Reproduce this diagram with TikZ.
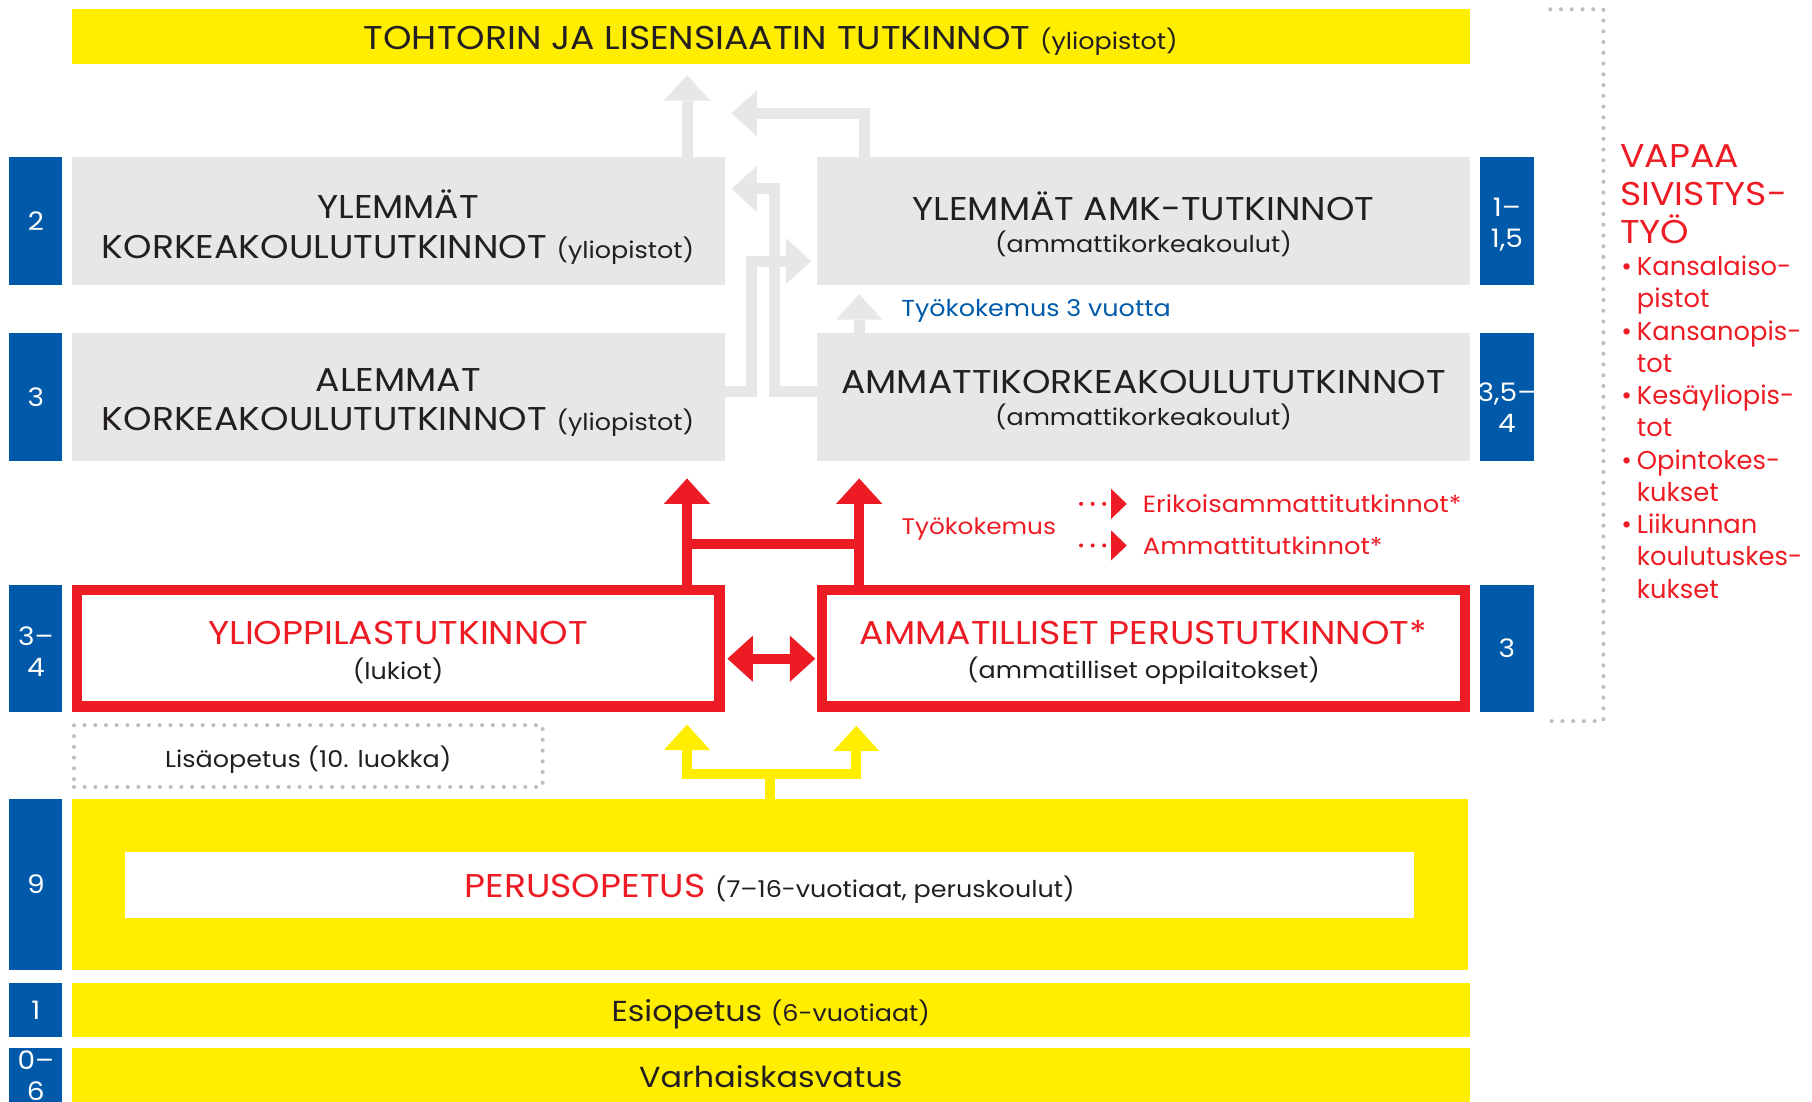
\documentclass[tikz,border=0pt]{standalone}
\usepackage{fontspec}
\setmainfont{Poppins}[FakeStretch=1.1]
\newfontfamily\kapea{Poppins}
\usetikzlibrary{arrows.meta}

\definecolor{fiyellow}{RGB}{255,238,0}
\definecolor{fiblue}{RGB}{0,90,169}
\definecolor{fired}{RGB}{237,28,36}
\definecolor{figray}{RGB}{230,231,232}
\definecolor{fidots}{RGB}{188,190,192}
\definecolor{fiink}{RGB}{35,31,32}

\newcommand{\pien}[1]{{\fontsize{20}{24}\selectfont #1}}
\newcommand{\pallo}{\makebox[13.5pt][l]{•}}
\newcommand{\sis}{\hspace*{13.5pt}}

\tikzset{
  fibox/.style={rectangle, inner sep=0pt, outer sep=0pt},
  boxtext/.style={inner sep=0pt, outer sep=0pt, align=center, text=fiink, font=\fontsize{28.5}{34}\selectfont},
  graybox/.style={fibox, fill=figray, minimum width=565pt, minimum height=111pt},
  yellowbox/.style={fibox, fill=fiyellow, minimum width=1210pt},
  redbox/.style={fibox, draw=fired, line width=9pt, minimum width=556pt, minimum height=101pt},
  years/.style={fibox, fill=fiblue, text=white, align=center, minimum width=46pt, font=\fontsize{22}{27}\selectfont},
  yearstext/.style={inner sep=0pt, outer sep=0pt, text=white, align=center, font=\fontsize{22}{27}\selectfont},
  note/.style={inner sep=0pt, outer sep=0pt, text=fiink, font=\fontsize{20}{24}\selectfont},
  dotline/.style={draw=fidots, line width=3.5pt, line cap=round, dash pattern=on 0pt off 9.3pt},
  grayarrow/.style={draw=figray, line width=9.5pt, ->},
  redarrow/.style={draw=fired, line width=8.5pt},
  yellowarrow/.style={draw=fiyellow, line width=8.5pt},
  dotarrow/.style={draw=fired, line width=3.5pt, line cap=round, dash pattern=on 0pt off 10pt, -{Triangle[length=13.5pt, width=26pt, line width=0pt]}}
}

\begin{document}
\begin{tikzpicture}[x=1pt, y=-1pt, >={Triangle[length=22pt, width=40pt, line width=0pt]}, line join=miter]
  \useasboundingbox (0, 0) rectangle (1568, 953);
  % Nodes
  \node (title) [yellowbox, minimum height=47pt] at (667, 31.5) {};
  \node (ylk) [graybox] at (344.5, 191.5) {};
  \node (alk) [graybox] at (344.5, 343.5) {};
  \node (yamk) [graybox] at (989.5, 191.5) {};
  \node (amk) [graybox] at (989.5, 343.5) {};
  \node (yo) [redbox] at (344.5, 561) {};
  \node (amm) [redbox] at (989.5, 561) {};
  \node (lisa) [fibox, dotline, minimum width=405.6pt, minimum height=53.5pt] at (266.8, 654.25) {};
  \node (perus) [yellowbox, minimum width=1208pt, minimum height=148pt] at (666, 765) {};
  \node (perus-in) [fibox, fill=white, minimum width=1116pt, minimum height=57pt] at (666, 765.5) {};
  \node (esi) [yellowbox, minimum height=46pt] at (667, 874) {};
  \node (varh) [yellowbox, minimum height=48pt] at (667, 931) {};
  % Box texts
  \node (title-text) [boxtext] at ([yshift=-3.5pt]title) {TOHTORIN JA LISENSIAATIN TUTKINNOT \pien{(yliopistot)}};
  \node (ylk-text) [boxtext] at ([yshift=-5pt]ylk) {YLEMMÄT\\KORKEAKOULUTUTKINNOT \pien{(yliopistot)}};
  \node (alk-text) [boxtext] at ([yshift=-5pt]alk) {ALEMMAT\\KORKEAKOULUTUTKINNOT \pien{(yliopistot)}};
  \node (yamk-text) [boxtext, font=\fontsize{28.5}{28}\selectfont] at ([yshift=-2.5pt]yamk) {YLEMMÄT AMK-TUTKINNOT\\\pien{(ammattikorkeakoulut)}};
  \node (amk-text) [boxtext, font=\fontsize{28.5}{28}\selectfont] at ([yshift=-2.5pt]amk) {AMMATTIKORKEAKOULUTUTKINNOT\\\pien{(ammattikorkeakoulut)}};
  \node (yo-text) [boxtext, font=\fontsize{28.5}{30}\selectfont] at ([yshift=-3.5pt]yo) {\textcolor{fired}{YLIOPPILASTUTKINNOT}\\\pien{(lukiot)}};
  \node (amm-text) [boxtext, font=\fontsize{28.5}{30}\selectfont] at ([yshift=-3.5pt]amm) {\textcolor{fired}{AMMATILLISET PERUSTUTKINNOT*}\\\pien{(ammatilliset oppilaitokset)}};
  \node (lisa-text) [note] at ([yshift=-3pt]lisa) {Lisäopetus (10. luokka)};
  \node (perus-text) [boxtext] at ([yshift=-4pt]perus-in) {\textcolor{fired}{PERUSOPETUS} \pien{(7–16-vuotiaat, peruskoulut)}};
  \node (esi-text) [boxtext, font=\fontsize{25}{30}\selectfont] at ([yshift=-4pt]esi) {Esiopetus \pien{(6-vuotiaat)}};
  \node (varh-text) [boxtext, font=\fontsize{25}{30}\selectfont] at ([yshift=-1pt]varh) {Varhaiskasvatus};
  % Years
  \node (years-2) [years, minimum height=111pt] at (31, 191.5) {2};
  \node (years-3) [years, minimum height=111pt] at (31, 343.5) {3};
  \node (years-34) [years, minimum height=110pt] at (31, 561) {};
  \node (years-9) [years, minimum height=148pt] at (31, 765) {9};
  \node (years-1) [years, minimum height=46pt] at (31, 874) {1};
  \node (years-06) [years, minimum height=48pt] at (31, 931) {0–\\6};
  \node (years-115) [years, minimum height=111pt] at (1304, 191.5) {};
  \node (years-354) [years, minimum height=111pt] at (1304, 343.5) {};
  \node (years-3b) [years, minimum height=110pt] at (1304, 561) {3};
  \node (years-34-text) [yearstext] at ([yshift=-3pt]years-34) {3–\\4};
  \node (years-115-text) [yearstext] at ([yshift=-3pt]years-115) {1–\\1,5};
  \node (years-354-text) [yearstext] at ([yshift=-9.5pt]years-354) {3,5–\\4};
  % Texts
  \node (tyo-3v) [note, text=fiblue, anchor=west] at (780, 269) {Työkokemus 3 vuotta};
  \node (tyo) [note, text=fired, font=\fontsize{19.5}{24}\selectfont] at (847, 458) {Työkokemus};
  \node (erik) [note, text=fired, anchor=west, font=\fontsize{20.3}{24}\selectfont] at (989, 436) {Erikoisammattitutkinnot*};
  \node (amt) [note, text=fired, anchor=west, font=\fontsize{20.3}{24}\selectfont] at (989, 472) {Ammattitutkinnot*};
  \node (vapaa) [note, text=fired, anchor=north west, align=left, font=\fontsize{28.5}{33}\selectfont] at (1402, 125) {VAPAA\\SIVISTYS-\\TYÖ};
  \node (vapaa-list) [note, text=fired, anchor=north west, align=left, font=\kapea\fontsize{22.3}{27.9}\selectfont] at (1403, 221.5) {\pallo Kansalaiso-\\\sis pistot\\\pallo Kansanopis-\\\sis tot\\\pallo Kesäyliopis-\\\sis tot\\\pallo Opintokes-\\\sis kukset\\\pallo Liikunnan\\\sis koulutuskes-\\\sis kukset};
  \draw[dotline] (1341.5, 8) -| (1387.5, 624) -- (1341.5, 624);
  % Arrow
  \coordinate (tip-1) at (594.5, 65);
  \coordinate (tip-2) at (633, 98);
  \coordinate (bend-3) at (670, 163.5);
  \coordinate (tip-3) at (633, 163.5);
  \coordinate (bend-4) at (650.5, 226);
  \coordinate (tip-4) at (702, 226);
  \coordinate (tip-5) at (743.5, 254.5);
  \draw[grayarrow] ([xshift=250pt]ylk.north) -- (tip-1);
  \draw[grayarrow] ([xshift=-241.5pt]yamk.north) |- (tip-2);
  \draw[grayarrow] ([yshift=4.5pt]amk.west) -| (bend-3) -- (tip-3);
  \draw[grayarrow] ([yshift=4.5pt]alk.east) -| (bend-4) -- (tip-4);
  \draw[grayarrow] ([xshift=-246pt]amk.north) -- (tip-5);
  \coordinate (red-tip-l) at (594.5, 414);
  \coordinate (red-bar-l) at (594.5, 471);
  \coordinate (red-bar-r) at (743.5, 471);
  \coordinate (red-tip-r) at (743.5, 414);
  \draw[redarrow] ([xshift=250pt]yo.north) -- (red-bar-l);
  \draw[redarrow] ([xshift=-246pt]amm.north) -- (red-bar-r);
  \draw[redarrow, <->] (red-tip-l) -- (red-bar-l) -- (red-bar-r) -- (red-tip-r);
  \draw[redarrow, <->, shorten <=7pt, shorten >=6pt] ([yshift=-9pt]yo.east) -- ([yshift=-9pt]amm.west);
  \coordinate (yel-bar-c) at (666, 670);
  \coordinate (yel-tip-l) at (594.5, 627);
  \coordinate (yel-bar-l) at (594.5, 670);
  \coordinate (yel-bar-r) at (741, 670);
  \coordinate (yel-tip-r) at (741, 628);
  \draw[yellowarrow] (perus.north) -- (yel-bar-c);
  \draw[yellowarrow, <->] (yel-tip-l) -- (yel-bar-l) -- (yel-bar-r) -- (yel-tip-r);
  \coordinate (dots-1) at (935.5, 436);
  \coordinate (dots-2) at (935.5, 472);
  \draw[dotarrow, shorten >=14pt] (dots-1) -- (dots-1 -| erik.west);
  \draw[dotarrow, shorten >=14pt] (dots-2) -- (dots-2 -| amt.west);
\end{tikzpicture}
\end{document}
